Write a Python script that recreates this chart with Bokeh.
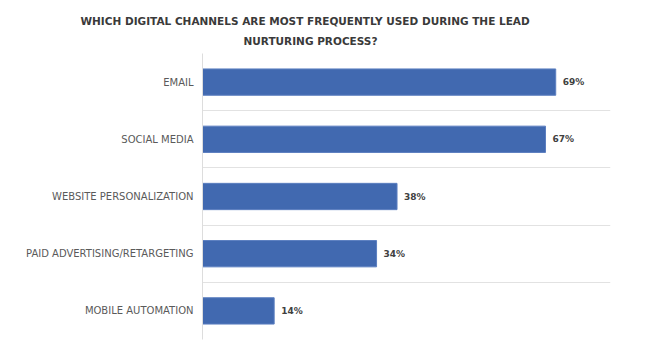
from bokeh.plotting import figure
from bokeh.models import ColumnDataSource, FixedTicker, LabelSet, Title, Range1d
from bokeh.core.properties import value
from bokeh.embed import file_html
from bokeh.resources import INLINE

categories = ["EMAIL", "SOCIAL MEDIA", "WEBSITE PERSONALIZATION",
              "PAID ADVERTISING/RETARGETING", "MOBILE AUTOMATION"]
values = [69, 67, 38, 34, 14]
value_labels = ["69%", "67%", "38%", "34%", "14%"]
title_lines = ["WHICH DIGITAL CHANNELS ARE MOST FREQUENTLY USED DURING THE LEAD",
               "NURTURING PROCESS?"]

n = len(categories)
ypos = [n - 1 - i for i in range(n)]

src = ColumnDataSource(dict(y=ypos, v=values, lab=value_labels, cat=categories))

p = figure(width=650, height=350, output_backend="svg", toolbar_location=None,
           x_range=Range1d(0, 79.7), y_range=Range1d(-0.5, n - 0.5),
           min_border_left=202, min_border_right=40, min_border_top=53,
           min_border_bottom=11)
p.outline_line_color = None
p.background_fill_color = "white"
p.border_fill_color = "white"

p.hbar(y="y", right="v", left=0, height=0.46, source=src,
       fill_color="#4169B0", line_color="#5C7FC0", line_width=1)

labels = LabelSet(x="v", y="y", text="lab", source=src, x_offset=7,
                  text_baseline="middle", text_font=value("DejaVu Sans"),
                  text_font_size=value("9px"), text_font_style="bold",
                  text_color="#404040")
p.add_layout(labels)

p.xaxis.visible = False
p.xgrid.visible = False

p.yaxis.ticker = FixedTicker(ticks=ypos)
p.yaxis.major_label_overrides = {y: c for y, c in zip(ypos, categories)}
p.yaxis.major_tick_line_color = None
p.yaxis.minor_tick_line_color = None
p.yaxis.major_tick_out = 0
p.yaxis.major_tick_in = 0
p.yaxis.axis_line_color = "#DDDDDD"
p.yaxis.major_label_text_font = "DejaVu Sans"
p.yaxis.major_label_text_font_size = "10px"
p.yaxis.major_label_text_color = "#5A5A5A"
p.yaxis.major_label_standoff = 9

p.ygrid.ticker = FixedTicker(ticks=[y - 0.5 for y in range(n)])
p.ygrid.grid_line_color = "#E2E2E2"
p.ygrid.grid_line_width = 1

# first title line on top (default title), second line closest to the plot
p.title.text = title_lines[0]
p.title.align = "left"
p.title.offset = -122
p.title.standoff = 0
p.title.text_font = "DejaVu Sans"
p.title.text_font_size = "10.5px"
p.title.text_font_style = "bold"
p.title.text_color = "#3A3A3A"

p.add_layout(Title(text=title_lines[1], align="left", offset=41, standoff=13,
                   text_font="DejaVu Sans", text_font_size="10.5px",
                   text_font_style="bold", text_color="#3A3A3A"), "above")

open("out.html", "w").write(file_html(p, INLINE))
